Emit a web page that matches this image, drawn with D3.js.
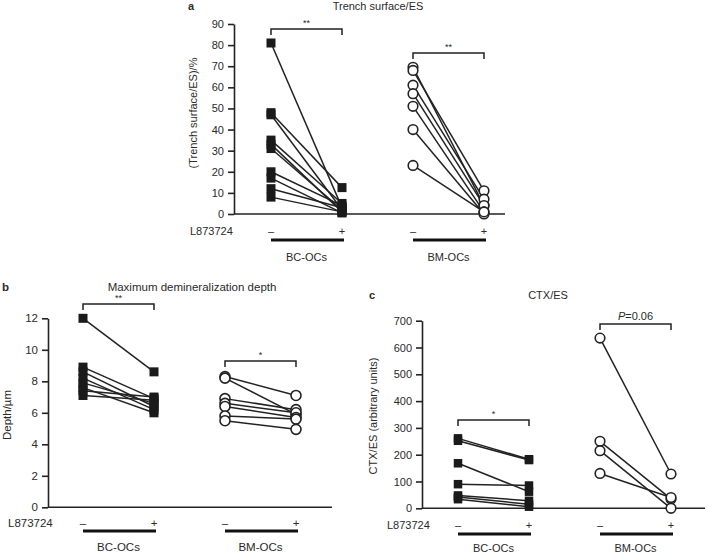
<!DOCTYPE html>
<html><head><meta charset="utf-8">
<script src="https://cdn.jsdelivr.net/npm/d3@7"></script>
<style>
body{margin:0;background:#fff;}
svg text{font-family:"Liberation Sans",Arial,Helvetica,sans-serif;fill:#2a2a2a;}
</style></head>
<body>
<svg id="chart" width="707" height="556"></svg>
<script>
// ---------- DATA ----------
const groups = ["BC-OCs", "BM-OCs"];
const treatLabels = ["–", "+"];
const drugLabel = "L873724";

// Panel a: Trench surface/ES (%)
const aBCminus = [81, 48, 47, 35, 33, 31, 20, 17, 12, 8];
const aBCplus  = [3, 12.5, 2, 5, 1, 2, 4, 0.5, 3, 1];
const aBMminus = [69.5, 68, 61, 57, 51, 40, 23];
const aBMplus  = [4, 11, 7, 4, 1, 0, 1];
const aTicks = [0, 10, 20, 30, 40, 50, 60, 70, 80, 90];
const aSig = ["**", "**"];

// Panel b: Maximum demineralization depth (µm)
const bBCminus = [12, 8.9, 8.6, 8.2, 7.9, 7.6, 7.4, 7.1];
const bBCplus  = [8.6, 6.9, 6.4, 6.2, 6.6, 6.0, 7.0, 6.8];
const bBMminus = [8.3, 8.2, 6.9, 6.6, 6.4, 5.8, 5.5];
const bBMplus  = [7.1, 5.9, 6.2, 6.0, 5.7, 5.6, 4.95];
const bTicks = [0, 2, 4, 6, 8, 10, 12];
const bSig = ["**", "*"];

// Panel c: CTX/ES (arbitrary units)
const cBCminus = [261, 252, 168, 90, 48, 42, 34];
const cBCplus  = [183, 180, 62, 85, 28, 15, 6];
const cBMminus = [635, 250, 215, 130];
const cBMplus  = [128, 35, 0, 40];
const cTicks = [0, 100, 200, 300, 400, 500, 600, 700];
const cSig = ["*", "P=0.06"];

// ---------- DRAW ----------
const svg = d3.select("#chart");
const ink = "#222";

function panel(o){
  const g = svg.append("g");
  const y = d3.scaleLinear().domain([0, o.ymax]).range([o.y0, o.ytop]);
  const x = d3.scalePoint().domain(["BC-","BC+","BM-","BM+"]).range([o.x0, o.x3]);

  // y axis
  const ax = g.append("g").attr("transform", `translate(${o.axisX},0)`)
    .call(d3.axisLeft(y).tickValues(o.ticks).tickSize(6).tickSizeOuter(0).tickPadding(4));
  ax.select(".domain").attr("stroke", ink).attr("stroke-width", 1.6);
  ax.selectAll(".tick line").attr("stroke", ink).attr("stroke-width", 1.6);
  ax.selectAll(".tick text").style("font-size", o.fs + "px").attr("fill", "#2a2a2a")
    .style("font-family", '"Liberation Sans",Arial,sans-serif');

  // baseline
  g.append("line").attr("x1", o.axisX).attr("x2", o.xEnd).attr("y1", y(0)).attr("y2", y(0))
    .attr("stroke", ink).attr("stroke-width", 1.6);

  // y label
  g.append("text").attr("transform", `translate(${o.ylabX},${o.ylabY}) rotate(-90)`)
    .attr("text-anchor", "middle").attr("dominant-baseline", "central")
    .style("font-size", o.fs + "px").text(o.ylab);

  // title and letter
  g.append("text").attr("x", o.titleX).attr("y", o.titleY).attr("text-anchor", "middle")
    .attr("dominant-baseline", "central").style("font-size", o.fs + "px").text(o.title);
  g.append("text").attr("x", o.letterX).attr("y", o.titleY).attr("dominant-baseline", "central")
    .style("font-size", o.fs + "px").style("font-weight", "bold").text(o.letter);

  // pairs
  const sets = [
    {m: o.BCm, p: o.BCp, k: "BC", shape: "sq"},
    {m: o.BMm, p: o.BMp, k: "BM", shape: "ci"}
  ];
  sets.forEach(s => {
    s.m.forEach((v, i) => {
      g.append("line").attr("x1", x(s.k + "-")).attr("y1", y(v))
        .attr("x2", x(s.k + "+")).attr("y2", y(s.p[i]))
        .attr("stroke", ink).attr("stroke-width", 1.5);
    });
  });
  sets.forEach(s => {
    const pts = [];
    s.m.forEach(v => pts.push([x(s.k + "-"), y(v)]));
    s.p.forEach(v => pts.push([x(s.k + "+"), y(v)]));
    pts.forEach(([px, py]) => {
      if (s.shape === "sq") {
        g.append("rect").attr("x", px - o.sq/2).attr("y", py - o.sq/2)
          .attr("width", o.sq).attr("height", o.sq).attr("fill", "#1a1a1a");
      } else {
        g.append("circle").attr("cx", px).attr("cy", py).attr("r", o.r)
          .attr("fill", "#fff").attr("stroke", ink).attr("stroke-width", 1.6);
      }
    });
  });

  // significance brackets
  [["BC", o.brY[0], o.sig[0]], ["BM", o.brY[1], o.sig[1]]].forEach(([k, by, lab]) => {
    const x1 = x(k + "-"), x2 = x(k + "+");
    g.append("path").attr("d", `M${x1},${by+6}V${by}H${x2}V${by+6}`)
      .attr("fill", "none").attr("stroke", ink).attr("stroke-width", 1.5);
    const t = g.append("text").attr("x", (x1 + x2) / 2).attr("y", by - 4)
      .attr("text-anchor", "middle");
    if (lab.startsWith("P=")) {
      t.style("font-size", o.fs + "px");
      t.append("tspan").style("font-style", "italic").text("P");
      t.append("tspan").text("=" + lab.slice(2));
    } else {
      t.style("font-size", "9px").attr("y", by - 3).text(lab);
    }
  });

  // treatment row
  g.append("text").attr("x", o.drugX).attr("y", o.treatY).attr("dominant-baseline", "central")
    .style("font-size", o.fs + "px").text(drugLabel);
  ["BC", "BM"].forEach((k, gi) => {
    g.append("text").attr("x", x(k + "-")).attr("y", o.treatY).attr("text-anchor", "middle")
      .attr("dominant-baseline", "central").style("font-size", o.fs + "px").text(treatLabels[0]);
    g.append("text").attr("x", x(k + "+")).attr("y", o.treatY).attr("text-anchor", "middle")
      .attr("dominant-baseline", "central").style("font-size", o.fs + "px").text(treatLabels[1]);
    g.append("line").attr("x1", x(k + "-")).attr("x2", x(k + "+") + 2)
      .attr("y1", o.barY).attr("y2", o.barY).attr("stroke", "#111").attr("stroke-width", 3);
    g.append("text").attr("x", (x(k + "-") + x(k + "+")) / 2).attr("y", o.grpY)
      .attr("text-anchor", "middle").attr("dominant-baseline", "central")
      .style("font-size", o.fs + "px").text(groups[gi]);
  });
}

panel({
  ymax: 90, y0: 214, ytop: 24, ticks: aTicks, axisX: 234, xEnd: 505,
  x0: 271, x3: 484, fs: 11,
  ylab: "(Trench surface/ES)/%", ylabX: 193, ylabY: 113,
  title: "Trench surface/ES", titleX: 378, titleY: 6, letter: "a", letterX: 188,
  BCm: aBCminus, BCp: aBCplus, BMm: aBMminus, BMp: aBMplus,
  sq: 9, r: 4.8, brY: [29, 53], sig: aSig,
  drugX: 190, treatY: 231, barY: 240, grpY: 257
});

panel({
  ymax: 12, y0: 507.3, ytop: 318.3, ticks: bTicks, axisX: 48, xEnd: 332,
  x0: 83, x3: 296, fs: 11.5,
  ylab: "Depth/\u00b5m", ylabX: 7, ylabY: 415,
  title: "Maximum demineralization depth", titleX: 192, titleY: 287, letter: "b", letterX: 2,
  BCm: bBCminus, BCp: bBCplus, BMm: bBMminus, BMp: bBMplus,
  sq: 9, r: 5, brY: [304, 361], sig: bSig,
  drugX: 8, treatY: 523, barY: 531, grpY: 547
});

panel({
  ymax: 700, y0: 508.3, ytop: 320.7, ticks: cTicks, axisX: 422, xEnd: 705,
  x0: 458, x3: 671, fs: 11,
  ylab: "CTX/ES (arbitrary units)", ylabX: 373, ylabY: 416,
  title: "CTX/ES", titleX: 548, titleY: 295, letter: "c", letterX: 369,
  BCm: cBCminus, BCp: cBCplus, BMm: cBMminus, BMp: cBMplus,
  sq: 8.5, r: 4.8, brY: [420, 324], sig: cSig,
  drugX: 387, treatY: 525, barY: 534, grpY: 548
});
</script>
</body></html>
